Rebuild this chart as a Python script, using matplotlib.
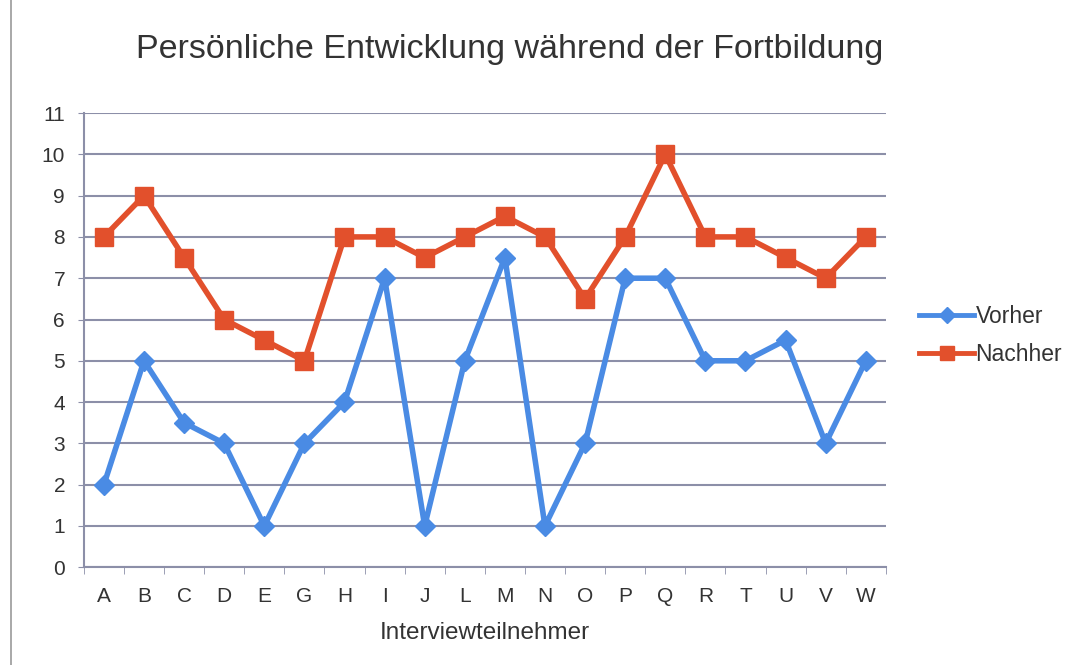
import matplotlib
matplotlib.use("Agg")
import matplotlib.pyplot as plt
from matplotlib.lines import Line2D
import numpy as np

categories = ["A", "B", "C", "D", "E", "G", "H", "I", "J", "L", "M", "N", "O", "P", "Q", "R", "T", "U", "V", "W"]
vorher = [2, 5, 3.5, 3, 1, 3, 4, 7, 1, 5, 7.5, 1, 3, 7, 7, 5, 5, 5.5, 3, 5]
nachher = [8, 9, 7.5, 6, 5.5, 5, 8, 8, 7.5, 8, 8.5, 8, 6.5, 8, 10, 8, 8, 7.5, 7, 8]
yticks = list(range(0, 12))

plt.rcParams['font.family'] = ['Liberation Sans', 'DejaVu Sans']

fig = plt.figure(figsize=(10.75, 6.65), dpi=100)
ax = fig.add_axes([0.078, 0.147, 0.746, 0.683])

x = np.arange(len(categories))
blue = "#4A8BE4"
red = "#E2502C"
ax.plot(x, vorher, color=blue, lw=4, marker="D", ms=10, label="Vorher", zorder=3)
ax.plot(x, nachher, color=red, lw=4, marker="s", ms=12.5, label="Nachher", zorder=3)

ax.set_xlim(-0.5, len(categories) - 0.5)
ax.set_ylim(0, 11)
ax.set_yticks(yticks)
ax.set_xticks(x)
ax.set_xticklabels(categories)
ax.set_xticks(np.arange(-0.5, len(categories)), minor=True)
ax.tick_params(axis="x", which="major", length=0, pad=14, labelsize=15, colors="#333333")
ax.tick_params(axis="x", which="minor", length=5, color="#8C8FA8", direction="out")
ax.tick_params(axis="y", length=4.5, color="#8C8FA8", labelsize=15, labelcolor="#333333", pad=9)

ax.grid(axis="y", color="#8C8FA8", lw=1.5)
ax.set_axisbelow(True)
for s in ["top", "right"]:
    ax.spines[s].set_visible(False)
ax.spines["left"].set_color("#8C8FA8")
ax.spines["bottom"].set_color("#8C8FA8")
ax.spines["left"].set_linewidth(1.5)
ax.spines["bottom"].set_linewidth(1.5)

ax.set_xlabel("Interviewteilnehmer", fontsize=17.5, color="#333333", labelpad=12)
fig.text(0.474, 0.925, "Persönliche Entwicklung während der Fortbildung", ha="center", va="center",
         fontsize=24.5, color="#333333")

fig.legend(handles=[
    Line2D([], [], color=blue, lw=3.5, marker="D", ms=8),
    Line2D([], [], color=red, lw=3.5, marker="s", ms=10)],
    labels=["Vorher", "Nachher"], loc="center left", bbox_to_anchor=(0.836, 0.496),
    frameon=False, fontsize=16.5, handlelength=2.4, handletextpad=0.05, labelspacing=0.65,
    labelcolor="#333333")

fig.add_artist(Line2D([0.01, 0.01], [0.0, 1.0], color="#999999", lw=1.2, transform=fig.transFigure))

fig.savefig("out.png", dpi=100)
